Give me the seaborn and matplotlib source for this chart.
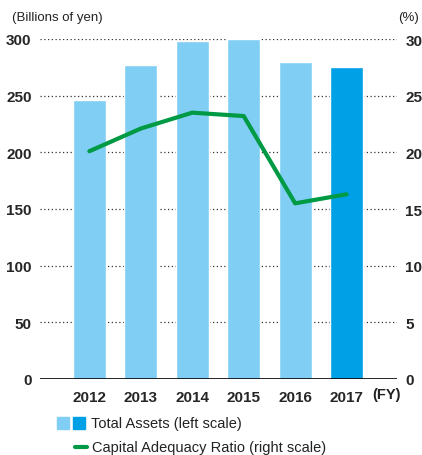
import matplotlib
matplotlib.use("Agg")
import matplotlib.pyplot as plt
import seaborn as sns
import numpy as np
import pandas as pd
from matplotlib.patches import Rectangle
from matplotlib.lines import Line2D

years = ["2012", "2013", "2014", "2015", "2016", "2017"]
total_assets = [246, 277, 298, 300, 280, 275]
capital_ratio = [20.1, 22.1, 23.5, 23.2, 15.5, 16.3]
left_ticks = [0, 50, 100, 150, 200, 250, 300]
right_ticks = [0, 5, 10, 15, 20, 25, 30]

light_blue = "#80CEF3"
dark_blue = "#00A0E6"
green = "#009A44"

sns.set_theme(style="white")
plt.rcParams['font.family'] = ['Liberation Sans', 'DejaVu Sans']

fig = plt.figure(figsize=(4.22, 4.56), dpi=100)
ax = fig.add_axes([40/422, 76/456, 357/422, 340/456])

df = pd.DataFrame({"year": years, "assets": total_assets})
palette = {y: (dark_blue if y == "2017" else light_blue) for y in years}
sns.barplot(data=df, x="year", y="assets", hue="year", palette=palette,
            legend=False, width=0.64, saturation=1, ax=ax, zorder=2)

ax.set_ylim(0, 300)
ax.set_xlim(-0.96, 5.98)
ax.set_yticks(left_ticks)
for t in left_ticks[1:]:
    ax.axhline(t, color="#333333", lw=0.9, ls=(0, (1, 2)), zorder=1)
ax.axhline(0, color="black", lw=1.2, zorder=3)
for s in ax.spines.values():
    s.set_visible(False)
ax.set_xlabel("")
ax.set_ylabel("")
ax.tick_params(axis="both", length=0)
ax.tick_params(axis="y", pad=6, labelsize=11)
ax.tick_params(axis="x", pad=8, labelsize=11)
for lbl in ax.get_yticklabels():
    lbl.set_fontweight("bold")
for lbl in ax.get_xticklabels():
    lbl.set_fontweight("bold")
    if lbl.get_text() == "2017":
        lbl.set_fontweight("heavy")

ax2 = ax.twinx()
sns.lineplot(x=np.arange(len(years)), y=capital_ratio, color=green, lw=3,
             ax=ax2, zorder=4)
ax2.set_ylim(0, 30)
ax2.set_yticks(right_ticks)
ax2.tick_params(axis="y", length=0, pad=6, labelsize=11)
for lbl in ax2.get_yticklabels():
    lbl.set_fontweight("bold")
for s in ax2.spines.values():
    s.set_visible(False)
ax2.set_xlim(-0.96, 5.98)

fig.text(12/422, 1 - 18/456, "(Billions of yen)", fontsize=9.5, va="center", ha="left", color="#222222")
fig.text(419/422, 1 - 18/456, "(%)", fontsize=9.5, va="center", ha="right", color="#222222")
fig.text(401/422, 1 - 395/456, "(FY)", fontsize=10.5, fontweight="bold", va="center", ha="right", color="#222222")

# legend
fig.patches.append(Rectangle((57/422, 1 - 430/456), 12/422, 12/456, transform=fig.transFigure,
                             color=light_blue, figure=fig))
fig.patches.append(Rectangle((73/422, 1 - 430/456), 12/422, 12/456, transform=fig.transFigure,
                             color=dark_blue, figure=fig))
fig.text(91/422, 1 - 424/456, "Total Assets (left scale)", fontsize=10.5, va="center", ha="left", color="#222222")
fig.lines.append(Line2D([75/422, 87/422], [1 - 448/456, 1 - 448/456], transform=fig.transFigure,
                        color=green, lw=3, figure=fig))
fig.text(92/422, 1 - 448/456, "Capital Adequacy Ratio (right scale)", fontsize=10.5, va="center", ha="left", color="#222222")

fig.savefig("out.png", dpi=100)
